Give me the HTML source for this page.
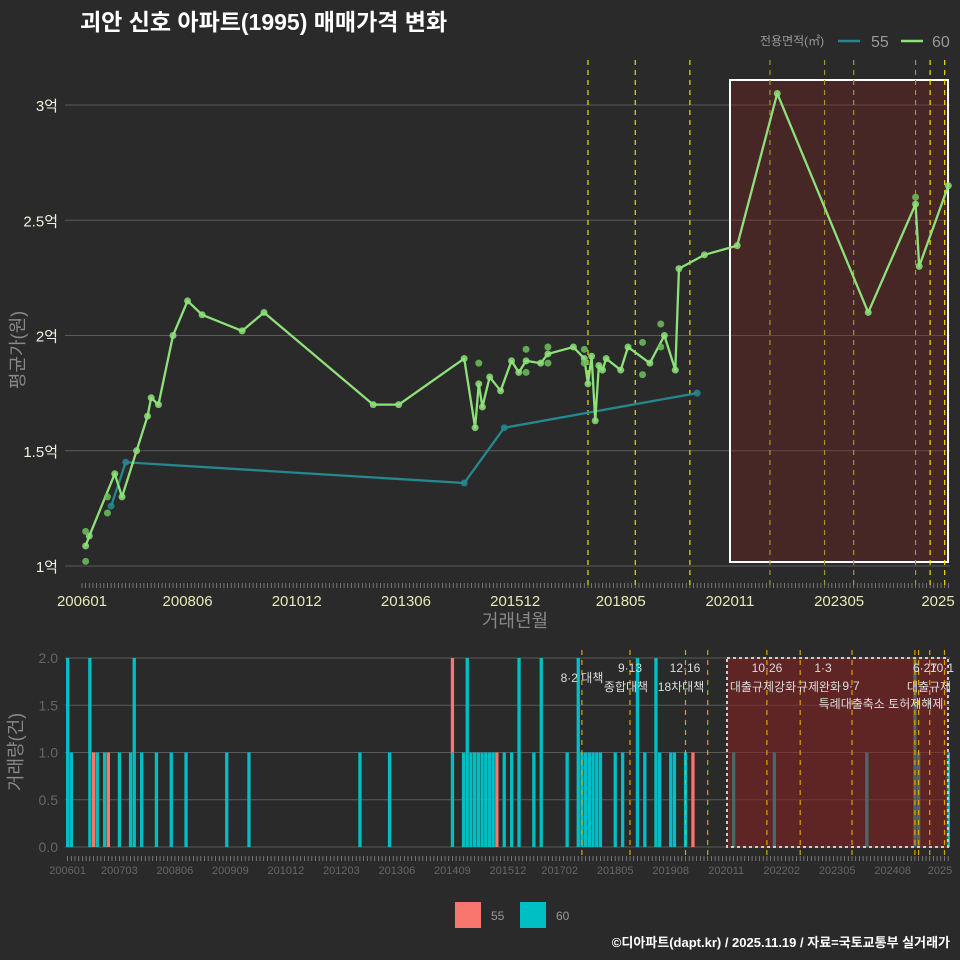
<!DOCTYPE html>
<html><head><meta charset="utf-8">
<style>
html,body{margin:0;padding:0;background:#2a2a2a;}
svg{display:block;font-family:"Liberation Sans","Noto Sans CJK KR",sans-serif;}
</style></head>
<body>
<svg id="chart" width="960" height="960" viewBox="0 0 960 960" xmlns="http://www.w3.org/2000/svg">
<rect x="0" y="0" width="960" height="960" fill="#2a2a2a"/>
<text x="80" y="30" font-size="23" font-weight="bold" fill="#ffffff">괴안 신호 아파트(1995) 매매가격 변화</text>
<g id="topPanel"></g>
<g id="botPanel"></g>
<g>
  <text x="760" y="45" font-size="12" fill="#999">전용면적(㎡)</text>
  <line x1="838" y1="41" x2="860" y2="41" stroke="#23898e" stroke-width="2.5"/>
  <text x="871" y="47" font-size="16" fill="#999">55</text>
  <line x1="901" y1="41" x2="923" y2="41" stroke="#8de07a" stroke-width="2.5"/>
  <text x="932" y="47" font-size="16" fill="#999">60</text>
</g>
<g>
  <rect x="455" y="902" width="26" height="26" fill="#f8766d"/>
  <text x="491" y="920" font-size="12" fill="#999">55</text>
  <rect x="520" y="902" width="26" height="26" fill="#00bfc4"/>
  <text x="556" y="920" font-size="12" fill="#999">60</text>
</g>
<text x="950" y="947" font-size="13" font-weight="bold" fill="#ffffff" text-anchor="end">©디아파트(dapt.kr) / 2025.11.19 / 자료=국토교통부 실거래가</text>
</svg>
<script>
// ---- data ----
const line60Months = ['200602','200603','200610','200612','200704','200707','200708','200710','200802','200806','200810','200909','201003','201209','201304','201410','201501','201502','201503','201505','201508','201511','201601','201603','201607','201609','201704','201707','201708','201709','201710','201711','201712','201801','201805','201807','201901','201905','201908','201909','202004','202101','202112','202401','202502','202503','202511'];
const line60Values = [1.087,1.13,1.40,1.30,1.50,1.65,1.73,1.70,2.00,2.15,2.09,2.02,2.10,1.70,1.70,1.90,1.60,1.79,1.69,1.82,1.76,1.89,1.84,1.89,1.88,1.92,1.95,1.90,1.79,1.91,1.63,1.87,1.85,1.90,1.85,1.95,1.88,2.00,1.85,2.29,2.35,2.39,3.05,2.10,2.57,2.30,2.65];
const extra60Months = ['200602','200602','200608','200608','201502','201603','201603','201609','201609','201707','201707','201811','201811','201904','201904','202502'];
const extra60Values = [1.15,1.02,1.30,1.23,1.88,1.94,1.84,1.95,1.88,1.94,1.88,1.97,1.83,2.05,1.95,2.60];
const line55Months = ['200609','200701','201410','201509','202002'];
const line55Values = [1.26,1.45,1.36,1.60,1.75];
const yTicks = [1,1.5,2,2.5,3];
const yTickLabels = ['1억','1.5억','2억','2.5억','3억'];
const xTickMonths = ['200601','200806','201012','201306','201512','201805','202011','202305','202511'];
const xTickLabels = ['200601','200806','201012','201306','201512','201805','202011','202305','2025'];
const topPolicyMonths = ['201708','201809','201912','202110','202301','202309','202502','202506','202510'];
const topPolicyColors = ['#e0e000','#e0e000','#e0e000','#a09a20','#a09a20','#a09a20','#a09a20','#f0e000','#f0e000'];
// volume bars
const bar60Months = ['200601','200602','200607','200609','200611','200703','200706','200707','200709','200801','200805','200809','200908','201002','201208','201304','201409','201412','201501','201502','201503','201504','201505','201506','201507','201508','201511','201601','201603','201607','201609','201704','201707','201708','201709','201710','201711','201712','201801','201805','201807','201811','201901','201904','201905','201908','201909','201912','202101','202112','202401','202502','202503','202511'];
const bar60Counts = [2,1,2,1,1,1,1,2,1,1,1,1,1,1,1,1,1,1,2,1,1,1,1,1,1,1,1,1,2,1,2,1,2,1,1,1,1,1,1,1,1,2,1,2,1,1,1,1,1,1,1,2,1,1];
const bar55Months = ['200608','200612','201409','201509','202002'];
const bar55Counts = [1,1,1,1,1];
const volTicks = [0,0.5,1,1.5,2];
const volTickLabels = ['0.0','0.5','1.0','1.5','2.0'];
const botXTickMonths = ['200601','200703','200806','200909','201012','201203','201306','201409','201512','201702','201805','201908','202011','202202','202305','202408','202511'];
const botXTickLabels = ['200601','200703','200806','200909','201012','201203','201306','201409','201512','201702','201805','201908','202011','202202','202305','202408','2025'];
const botPolicyMonths = ['201708','201809','201912','202006','202110','202207','202309','202502','202503','202506','202510'];
const policyDates = ['8·2 대책','9·13','12·16','10·26','1·3','9·7','6·27','10·1'];
const policyNames = ['','종합대책','18차대책','대출규제강화','규제완화','','',''];

// ---- helpers ----
const NS='http://www.w3.org/2000/svg';
function mk(tag,attrs,parent,text){const e=document.createElementNS(NS,tag);for(const k in attrs)e.setAttribute(k,attrs[k]);if(text!==undefined)e.textContent=text;parent.appendChild(e);return e;}
function mIdx(s){return (parseInt(s.slice(0,4))-2006)*12+parseInt(s.slice(4,6))-1;}
const topG=document.getElementById('topPanel'), botG=document.getElementById('botPanel');
const tx=m=>82+3.64*mIdx(m);
const ty=v=>566-(v-1)*230.5;
const bx=m=>67.6+3.70*mIdx(m);
const by=v=>847-v*94.5;

// ---- top panel ----
yTicks.forEach((v,i)=>{
  let g=mk('line',{x1:65,x2:950,y1:ty(v),y2:ty(v),stroke:'#5a5a5a','stroke-width':1},topG);
  
  
  let t=mk('text',{x:58,y:ty(v)+6,'font-size':15,fill:'#f0f0e0','text-anchor':'end'},topG,yTickLabels[i]);
  
  
});
for(let m=0;m<=238;m++){
  let l=mk('line',{x1:82+3.64*m,x2:82+3.64*m,y1:583,y2:588,stroke:'#888','stroke-width':0.8},topG);
  
  
}
xTickMonths.forEach((m,i)=>{
  let t=mk('text',{x:Math.min(tx(m),938),y:606,'font-size':15,fill:'#e8e8b8','text-anchor':'middle'},topG,xTickLabels[i]);
  
  
});
let r=mk('rect',{x:730,y:80,width:218,height:482,fill:'#8a1f1f','fill-opacity':0.3,stroke:'#ffffff','stroke-width':2},topG);


topPolicyMonths.forEach((m,i)=>{
  let l=mk('line',{x1:tx(m),x2:tx(m),y1:60,y2:590,stroke:topPolicyColors[i],'stroke-width':1.2,'stroke-dasharray':'5,5'},topG);
  
  
});
function drawLine(months,vals,color,name){
  const pts=months.map((m,i)=>tx(m)+','+ty(vals[i])).join(' ');
  let p=mk('polyline',{points:pts,fill:'none',stroke:color,'stroke-width':2.3,'stroke-linejoin':'round'},topG);
  
  
  months.forEach((m,i)=>{
    let c=mk('circle',{cx:tx(m),cy:ty(vals[i]),r:3.5,fill:color,'fill-opacity':0.85},topG);
    
    
  });
}
drawLine(line55Months,line55Values,'#23898e','series-55-line');
drawLine(line60Months,line60Values,'#8de07a','series-60-line');
extra60Months.forEach((m,i)=>{
  let c=mk('circle',{cx:tx(m),cy:ty(extra60Values[i]),r:3.5,fill:'#6cc25a','fill-opacity':0.85},topG);
  
  
});
let yt=mk('text',{x:0,y:0,'font-size':18,fill:'#888','text-anchor':'middle',transform:'translate(24,350) rotate(-90)'},topG,'평균가(원)');


let xt=mk('text',{x:515,y:627,'font-size':18,fill:'#888','text-anchor':'middle'},topG,'거래년월');



// ---- bottom panel ----
volTicks.forEach((v,i)=>{
  let g=mk('line',{x1:65,x2:950,y1:by(v),y2:by(v),stroke:'#5a5a5a','stroke-width':1},botG);
  
  
  let t=mk('text',{x:58,y:by(v)+5,'font-size':14,fill:'#666','text-anchor':'end'},botG,volTickLabels[i]);
  
  
});
function drawBars(months,counts,color,base){
  months.forEach((m,i)=>{
    const b=base?(base[m]||0):0;
    let rr=mk('rect',{x:bx(m)-1.6,y:by(b+counts[i]),width:3.3,height:by(b)-by(b+counts[i]),fill:color},botG);
    
    
  });
}
drawBars(bar60Months,bar60Counts,'#00bfc4');
const base60={};bar60Months.forEach((m,i)=>base60[m]=bar60Counts[i]);
drawBars(bar55Months,bar55Counts,'#f8766d',base60);
let r2=mk('rect',{x:727,y:658,width:221,height:189,fill:'#8a1f1f','fill-opacity':0.55,stroke:'#cccccc','stroke-width':2,'stroke-dasharray':'3,3'},botG);


botPolicyMonths.forEach(m=>{
  let l=mk('line',{x1:bx(m),x2:bx(m),y1:650,y2:857,stroke:'#e0a000','stroke-width':1.2,'stroke-dasharray':'5,5'},botG);
  
  
});
for(let m=0;m<=238;m++){
  let l=mk('line',{x1:67.6+3.7*m,x2:67.6+3.7*m,y1:856,y2:861,stroke:'#888','stroke-width':0.8},botG);
  
  
}
botXTickMonths.forEach((m,i)=>{
  let t=mk('text',{x:Math.min(bx(m),940),y:874,'font-size':11,fill:'#666','text-anchor':'middle'},botG,botXTickLabels[i]);
  
  
});
const annPos=[[582,682],[630,672],[685,672],[767,672],[823,672],[851,690],[925,672],[942,672]];
policyDates.forEach((d,i)=>{
  let t=mk('text',{x:annPos[i][0],y:annPos[i][1],'font-size':12,fill:'#dddddd','text-anchor':'middle'},botG,d);
  
  
  if(policyNames[i]){
    let n=mk('text',{x:annPos[i][0]-4,y:annPos[i][1]+19,'font-size':12,fill:'#dddddd','text-anchor':'middle'},botG,policyNames[i]);
    
    
  }
});
let e1=mk('text',{x:881,y:708,'font-size':12,fill:'#dddddd','text-anchor':'middle'},botG,'특례대출축소 토허제해제');


let e2=mk('text',{x:929,y:691,'font-size':12,fill:'#dddddd','text-anchor':'middle'},botG,'대출규제');


let vt=mk('text',{x:0,y:0,'font-size':18,fill:'#888','text-anchor':'middle',transform:'translate(22,752) rotate(-90)'},botG,'거래량(건)');


</script>
</body></html>
